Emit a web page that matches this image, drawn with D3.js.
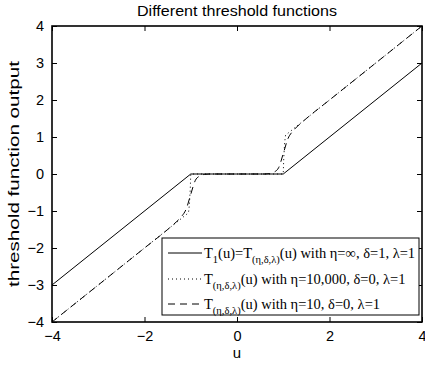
<!DOCTYPE html>
<html>
<head>
<meta charset="utf-8">
<script src="https://cdn.jsdelivr.net/npm/d3@7"></script>
<style>
  html, body { margin: 0; padding: 0; background: #fff; }
  svg { display: block; }
</style>
</head>
<body>
<svg id="chart" width="425" height="366"></svg>
<script>
// Threshold functions: soft threshold and two smooth variants
const xTicks = [-4, -2, 0, 2, 4];
const yTicks = [-4, -3, -2, -1, 0, 1, 2, 3, 4];

// T1(u): eta = inf, delta = 1, lambda = 1
const uSoft = [-4, -1, 1, 4];
const ySoft = [-3, 0, 0, 3];

// eta = 10,000, delta = 0, lambda = 1
const uSharp = [-4, -1.05, -1.03, -1.01, -1.0, 1.0, 1.01, 1.03, 1.05, 4];
const ySharp = [-4, -1.05, -0.85, -0.4, 0, 0, 0.4, 0.85, 1.05, 4];

// eta = 10, delta = 0, lambda = 1
const uSmooth = [-4, -2, -1.5, -1.3, -1.2, -1.1, -1.0, -0.9, -0.8, -0.7, -0.6,
                 0.6, 0.7, 0.8, 0.9, 1.0, 1.1, 1.2, 1.3, 1.5, 2, 4];
const ySmooth = [-4, -2, -1.5, -1.28, -1.15, -0.95, -0.55, -0.17, -0.05, -0.01, 0,
                 0, 0.01, 0.05, 0.17, 0.55, 0.95, 1.15, 1.28, 1.5, 2, 4];

const svg = d3.select("#chart");
const mLeft = 52, mRight = 422, mTop = 26, mBottom = 322;

const x = d3.scaleLinear().domain([-4, 4]).range([mLeft, mRight]);
const y = d3.scaleLinear().domain([-4, 4]).range([mBottom, mTop]);

const fmt = d => d < 0 ? "\u2212" + Math.abs(d) : String(d);
const SANS = "Liberation Sans, Arial, sans-serif";
const SERIF = "Liberation Serif, Times New Roman, serif";

// axes with inward ticks on all four sides
const gx = svg.append("g").attr("transform", `translate(0,${mBottom})`)
  .call(d3.axisBottom(x).tickValues(xTicks).tickSizeInner(-5).tickSizeOuter(0).tickPadding(9).tickFormat(fmt));
const gxTop = svg.append("g").attr("transform", `translate(0,${mTop})`)
  .call(d3.axisTop(x).tickValues(xTicks).tickSizeInner(-5).tickSizeOuter(0).tickFormat(""));
const gy = svg.append("g").attr("transform", `translate(${mLeft},0)`)
  .call(d3.axisLeft(y).tickValues(yTicks).tickSizeInner(-5).tickSizeOuter(0).tickPadding(8).tickFormat(fmt));
const gyRight = svg.append("g").attr("transform", `translate(${mRight},0)`)
  .call(d3.axisRight(y).tickValues(yTicks).tickSizeInner(-5).tickSizeOuter(0).tickFormat(""));

[gx, gxTop, gy, gyRight].forEach(g => {
  g.select(".domain").remove();
  g.selectAll("line").attr("stroke", "#000").attr("stroke-width", 1);
  g.selectAll("text").attr("font-family", SANS).attr("font-size", 14.5).attr("fill", "#000");
});

// curves
const zip = (a, b) => a.map((v, i) => [v, b[i]]);
const lineLin = d3.line().x(d => x(d[0])).y(d => y(d[1]));
const lineSmooth = d3.line().x(d => x(d[0])).y(d => y(d[1])).curve(d3.curveMonotoneX);

const plot = svg.append("g");
plot.append("path").datum(zip(uSoft, ySoft)).attr("d", lineLin)
  .attr("fill", "none").attr("stroke", "#000").attr("stroke-width", 1);
plot.append("path").datum(zip(uSharp, ySharp)).attr("d", lineLin)
  .attr("fill", "none").attr("stroke", "#000").attr("stroke-width", 1).attr("stroke-dasharray", "1,3");
plot.append("path").datum(zip(uSmooth, ySmooth)).attr("d", lineSmooth)
  .attr("fill", "none").attr("stroke", "#000").attr("stroke-width", 1).attr("stroke-dasharray", "7,5");

// frame
svg.append("rect").attr("x", mLeft).attr("y", mTop).attr("width", mRight - mLeft).attr("height", mBottom - mTop)
  .attr("fill", "none").attr("stroke", "#000").attr("stroke-width", 1.6);

// title and axis labels
svg.append("text").attr("x", (mLeft + mRight) / 2).attr("y", 16).attr("text-anchor", "middle")
  .attr("font-family", SANS).attr("font-size", 15)
  .attr("textLength", 200).attr("lengthAdjust", "spacingAndGlyphs")
  .text("Different threshold functions");
svg.append("text").attr("x", (mLeft + mRight) / 2).attr("y", 358).attr("text-anchor", "middle")
  .attr("font-family", SANS).attr("font-size", 15).text("u");
svg.append("text").attr("transform", `translate(19,${(mTop + mBottom) / 2}) rotate(-90)`).attr("text-anchor", "middle")
  .attr("font-family", SANS).attr("font-size", 15)
  .attr("textLength", 226).attr("lengthAdjust", "spacingAndGlyphs")
  .text("threshold function output");

// legend
const legend = svg.append("g");
legend.append("rect").attr("x", 162).attr("y", 238).attr("width", 257).attr("height", 77)
  .attr("fill", "#fff").attr("stroke", "#000").attr("stroke-width", 1);

const entries = [
  { dash: null, y: 253, parts: [["T"], ["1", 1], ["(u)=T"], ["(\u03b7,\u03b4,\u03bb)", 1], ["(u) with \u03b7=\u221e, \u03b4=1, \u03bb=1"]] },
  { dash: "1,3", y: 279, parts: [["T"], ["(\u03b7,\u03b4,\u03bb)", 1], ["(u) with \u03b7=10,000, \u03b4=0, \u03bb=1"]] },
  { dash: "7,5", y: 304, parts: [["T"], ["(\u03b7,\u03b4,\u03bb)", 1], ["(u) with \u03b7=10, \u03b4=0, \u03bb=1"]] }
];
entries.forEach(e => {
  legend.append("line").attr("x1", 168).attr("x2", 202).attr("y1", e.y).attr("y2", e.y)
    .attr("stroke", "#000").attr("stroke-width", 1).attr("stroke-dasharray", e.dash);
  const t = legend.append("text").attr("x", 204).attr("y", e.y + 5)
    .attr("font-family", SERIF).attr("font-size", 14.5);
  let sub = false;
  e.parts.forEach(p => {
    const isSub = p[1] === 1;
    const ts = t.append("tspan").text(p[0]);
    if (isSub) ts.attr("font-size", 10.5);
    if (isSub && !sub) ts.attr("dy", 5);
    else if (!isSub && sub) ts.attr("dy", -5);
    sub = isSub;
  });
});
</script>
</body>
</html>
